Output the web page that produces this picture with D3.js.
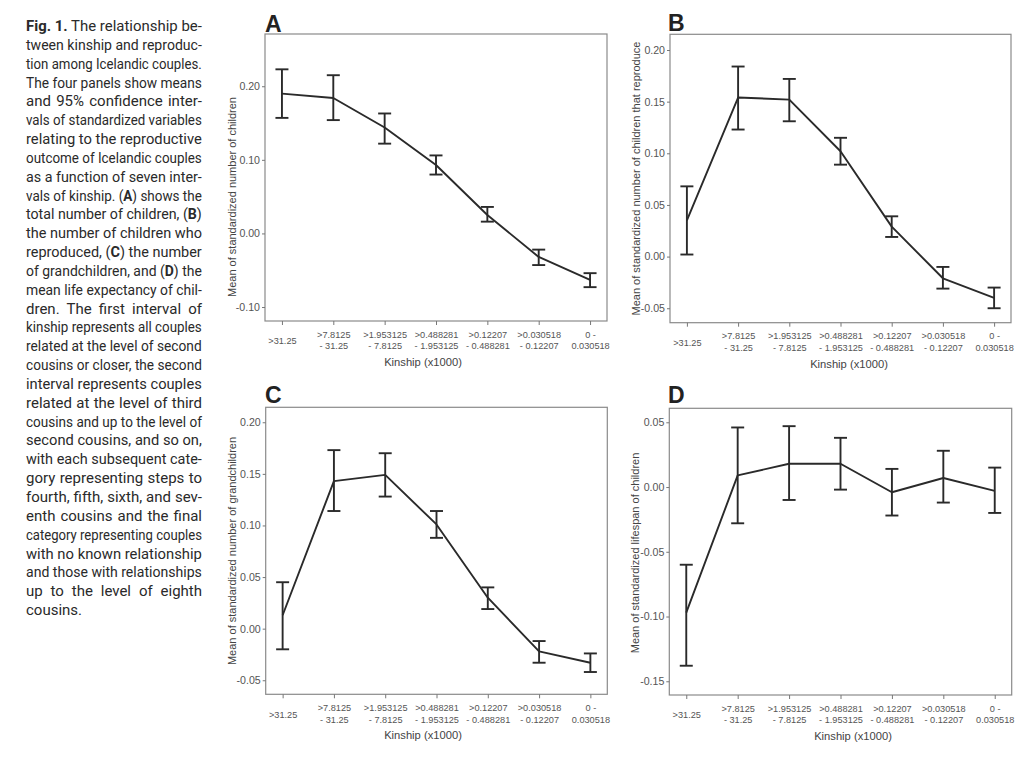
<!DOCTYPE html>
<html><head><meta charset="utf-8">
<script src="https://cdn.jsdelivr.net/npm/d3@7"></script>
<style>body{margin:0;background:#fff;} svg{display:block;}</style>
</head><body><svg id="c" width="1024" height="758"></svg>
<script>
// ---------- data ----------
const categories = [">31.25", ">7.8125\n- 31.25", ">1.953125\n- 7.8125", ">0.488281\n- 1.953125",
  ">0.12207\n- 0.488281", ">0.030518\n- 0.12207", "0 -\n0.030518"];

const meanA = [0.190, 0.184, 0.144, 0.093, 0.025, -0.032, -0.063];
const lowA  = [0.157, 0.154, 0.122, 0.080, 0.016, -0.043, -0.073];
const highA = [0.223, 0.215, 0.163, 0.106, 0.036, -0.022, -0.054];
const yTicksA = [-0.10, 0.00, 0.10, 0.20];

const meanB = [0.035, 0.154, 0.152, 0.102, 0.029, -0.021, -0.040];
const lowB  = [0.002, 0.123, 0.131, 0.089, 0.019, -0.031, -0.050];
const highB = [0.068, 0.184, 0.172, 0.115, 0.039, -0.010, -0.030];
const yTicksB = [-0.05, 0.00, 0.05, 0.10, 0.15, 0.20];

const meanC = [0.013, 0.143, 0.149, 0.101, 0.030, -0.022, -0.033];
const lowC  = [-0.020, 0.114, 0.128, 0.088, 0.019, -0.033, -0.042];
const highC = [0.045, 0.173, 0.170, 0.114, 0.040, -0.012, -0.024];
const yTicksC = [-0.05, 0.00, 0.05, 0.10, 0.15, 0.20];

const meanD = [-0.097, 0.009, 0.018, 0.018, -0.004, 0.007, -0.003];
const lowD  = [-0.138, -0.028, -0.010, -0.002, -0.022, -0.012, -0.020];
const highD = [-0.060, 0.046, 0.047, 0.038, 0.014, 0.028, 0.015];
const yTicksD = [-0.15, -0.10, -0.05, 0.00, 0.05];

const panelLetters = ["A", "B", "C", "D"];
const yTitles = ["Mean of standardized number of children",
  "Mean of standardized number of children that reproduce",
  "Mean of standardized number of grandchildren",
  "Mean of standardized lifespan of children"];
const xTitle = "Kinship (x1000)";

const captionLines = [
  "**Fig. 1.** The relationship be-",
  "tween kinship and reproduc-",
  "tion among Icelandic couples.",
  "The four panels show means",
  "and 95% confidence inter-",
  "vals of standardized variables",
  "relating to the reproductive",
  "outcome of Icelandic couples",
  "as a function of seven inter-",
  "vals of kinship. (**A**) shows the",
  "total number of children, (**B**)",
  "the number of children who",
  "reproduced, (**C**) the number",
  "of grandchildren, and (**D**) the",
  "mean life expectancy of chil-",
  "dren. The first interval of",
  "kinship represents all couples",
  "related at the level of second",
  "cousins or closer, the second",
  "interval represents couples",
  "related at the level of third",
  "cousins and up to the level of",
  "second cousins, and so on,",
  "with each subsequent cate-",
  "gory representing steps to",
  "fourth, fifth, sixth, and sev-",
  "enth cousins and the final",
  "category representing couples",
  "with no known relationship",
  "and those with relationships",
  "up to the level of eighth",
  "cousins."
];

// ---------- layout ----------
const svg = d3.select("#c");
const panels = [
  {mean: meanA, low: lowA, high: highA, ticks: yTicksA, dom: [-0.119, 0.271],
   box: [265, 34, 607, 321], xt: 423, ytY: 197, ytX: 232, letterX: 265, letterY: 32},
  {mean: meanB, low: lowB, high: highB, ticks: yTicksB, dom: [-0.064, 0.2152],
   box: [670, 34.3, 1011, 322.7], xt: 849, ytY: 178.5, ytX: 636, letterX: 668, letterY: 31},
  {mean: meanC, low: lowC, high: highC, ticks: yTicksC, dom: [-0.0636, 0.2145],
   box: [265.7, 407.3, 607.3, 694.3], xt: 423, ytY: 551, ytX: 232, letterX: 265, letterY: 403},
  {mean: meanD, low: lowD, high: highD, ticks: yTicksD, dom: [-0.1606, 0.0608],
   box: [669.3, 408.3, 1011.7, 695], xt: 853, ytY: 553, ytX: 635.5, letterX: 668, letterY: 403}
];

const axisCol = "#555";
const lineCol = "#2a2a2a";
const sans = "Liberation Sans, Arial, sans-serif";

panels.forEach((p, i) => {
  const [x0, y0, x1, y1] = p.box;
  const x = d3.scalePoint().domain(categories).range([x0, x1]).padding(0.33);
  const y = d3.scaleLinear().domain(p.dom).range([y1, y0]);
  const g = svg.append("g");

  // frame
  g.append("rect").attr("x", x0).attr("y", y0).attr("width", x1 - x0).attr("height", y1 - y0)
    .attr("fill", "none").attr("stroke", "#8a8a8a").attr("stroke-width", 1.2);

  // y axis
  const ya = g.append("g").attr("transform", `translate(${x0},0)`)
    .call(d3.axisLeft(y).tickValues(p.ticks).tickSize(3).tickPadding(2).tickFormat(d => d.toFixed(2)));
  ya.select(".domain").remove();
  ya.selectAll("line").attr("stroke", "#777");
  ya.selectAll("text").attr("fill", axisCol).style("font-family", sans).style("font-size", "10.6px");

  // x axis
  const xa = g.append("g").attr("transform", `translate(0,${y1})`)
    .call(d3.axisBottom(x).tickSize(4).tickFormat(""));
  xa.select(".domain").remove();
  xa.selectAll("line").attr("stroke", "#777");
  xa.selectAll(".tick").each(function(d) {
    const parts = d.split("\n");
    const t = d3.select(this).append("text").attr("text-anchor", "middle")
      .attr("fill", axisCol).style("font-family", sans).style("font-size", "9.2px");
    if (parts.length === 1) {
      t.append("tspan").attr("x", 0).attr("y", 20).attr("dy", "0.35em").text(parts[0]);
    } else {
      parts.forEach((s, k) => t.append("tspan").attr("x", 0).attr("y", 13.5 + k * 11.6).attr("dy", "0.35em").text(s));
    }
  });

  // axis titles
  g.append("text").attr("x", p.xt).attr("y", y1 + 41).attr("dy", "0.35em").attr("text-anchor", "middle")
    .attr("fill", "#444").style("font-family", sans).style("font-size", "11.2px").text(xTitle);
  g.append("text").attr("transform", `translate(${p.ytX},${p.ytY}) rotate(-90)`).attr("dy", "0.35em")
    .attr("text-anchor", "middle").attr("fill", "#444")
    .style("font-family", sans).style("font-size", "11px").text(yTitles[i]);

  // panel letter
  g.append("text").attr("x", p.letterX).attr("y", p.letterY).attr("fill", "#222")
    .style("font-family", sans).style("font-weight", "bold").style("font-size", "23px")
    .text(panelLetters[i]);

  // line
  const line = d3.line().x((d, k) => x(categories[k])).y(d => y(d));
  g.append("path").datum(p.mean).attr("d", line).attr("fill", "none")
    .attr("stroke", lineCol).attr("stroke-width", 1.9).attr("stroke-linejoin", "round");

  // error bars
  const cap = 6.5;
  const eb = g.append("g").attr("stroke", lineCol).attr("stroke-width", 1.9);
  categories.forEach((c, k) => {
    const cx = x(c);
    eb.append("line").attr("x1", cx).attr("x2", cx).attr("y1", y(p.low[k])).attr("y2", y(p.high[k]));
    eb.append("line").attr("x1", cx - cap).attr("x2", cx + cap).attr("y1", y(p.low[k])).attr("y2", y(p.low[k]));
    eb.append("line").attr("x1", cx - cap).attr("x2", cx + cap).attr("y1", y(p.high[k])).attr("y2", y(p.high[k]));
  });
});

// ---------- caption ----------
const capX = 26, capW = 176, capY0 = 31, capDy = 18.84;
const capG = svg.append("g").attr("fill", "#2a2a2a")
  .style("font-family", "Roboto, 'Liberation Sans', sans-serif").style("font-size", "15px");
captionLines.forEach((ln, i) => {
  const lg = capG.append("g").attr("transform", `translate(${capX},${capY0 + i * capDy})`);
  const t = lg.append("text").attr("x", 0).attr("y", 0);
  ln.split("**").forEach((seg, k) => {
    if (!seg) return;
    t.append("tspan").style("font-weight", k % 2 === 1 ? "bold" : "normal").text(seg);
  });
  if (i === captionLines.length - 1) return;
  const w = t.node().getComputedTextLength();
  const nSpaces = (ln.match(/ /g) || []).length;
  if (w < capW && nSpaces > 0) {
    t.style("word-spacing", ((capW - w) / nSpaces) + "px");
  } else if (w > capW) {
    lg.attr("transform", `translate(${capX},${capY0 + i * capDy}) scale(${capW / w},1)`);
  }
});
</script></body></html>
